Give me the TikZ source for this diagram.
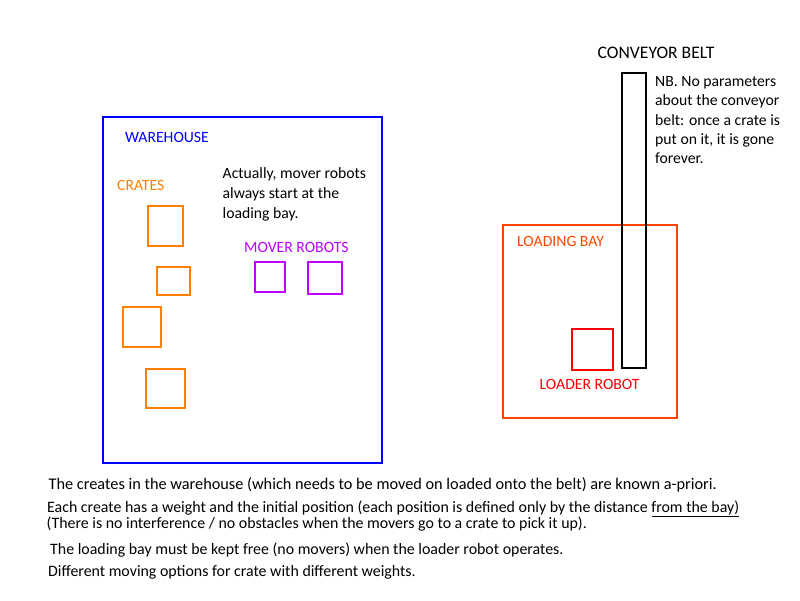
\documentclass[tikz,border=0pt]{standalone}
\usepackage{fontspec}
\setmainfont{Carlito}
\definecolor{whblue}{RGB}{0,0,255}
\definecolor{crateor}{RGB}{255,128,0}
\definecolor{moverpu}{RGB}{191,0,255}
\definecolor{bayor}{RGB}{255,69,0}
\definecolor{loadred}{RGB}{255,0,0}
\begin{document}
\begin{tikzpicture}[x=1pt,y=-1pt,
  lbl/.style={inner sep=0pt,anchor=west,font=\fontsize{15.7}{18}\selectfont},
  txt/.style={inner sep=0pt,anchor=base west,font=\fontsize{15.7}{18}\selectfont},
  btxt/.style={inner sep=0pt,anchor=base west,font=\fontsize{15.9}{18}\selectfont},
  box/.style={line width=2pt},
]
\useasboundingbox (0,0) rectangle (800,600);
% warehouse
\draw[box,whblue] (103,117) rectangle (382,463);
\node[lbl,whblue] (whlabel) at (125,137) {WAREHOUSE};
\node[lbl,crateor] (cratelabel) at (117,185) {CRATES};
\draw[box,crateor] (148,206) rectangle (183,246);
\draw[box,crateor] (157,267) rectangle (190,295);
\draw[box,crateor] (123,307) rectangle (161,347);
\draw[box,crateor] (146,369) rectangle (185,408);
\node[txt] (act1) at (222.5,178.5) {Actually, mover robots};
\node[txt] (act2) at (222.5,198.5) {always start at the};
\node[txt] (act3) at (222.5,218.5) {loading bay.};
\node[lbl,moverpu] (moverlabel) at (244,247) {MOVER ROBOTS};
\draw[box,moverpu] (255,262) rectangle (285,292);
\draw[box,moverpu] (308,262) rectangle (342,293.5);
% loading bay and belt
\draw[box,bayor] (503,225) rectangle (677,417.5);
\node[lbl,bayor] (baylabel) at (517,241) {LOADING BAY};
\draw[box,loadred] (572,329) rectangle (613,370);
\node[lbl,loadred] (loaderlabel) at (539.5,384) {LOADER ROBOT};
\draw[box,black] (622,73) rectangle (646,368);
\node[lbl,font=\fontsize{17.6}{20}\selectfont] (beltlabel) at (597.5,53) {CONVEYOR BELT};
\node[txt] (nb1) at (655,86) {NB. No parameters};
\node[txt] (nb2) at (655,105.5) {about the conveyor};
\node[txt] (nb3) at (655,125) {belt: once a crate is};
\node[txt] (nb4) at (655,144) {put on it, it is gone};
\node[txt] (nb5) at (655,163.5) {forever.};
% bottom notes
\node[btxt,font=\fontsize{16.3}{18}\selectfont] (b1) at (48.5,489) {The creates in the warehouse (which needs to be moved on loaded onto the belt) are known a-priori.};
\node[btxt] (b2) at (47,512.5) {Each create has a weight and the initial position (each position is defined only by the distance \underline{from the bay)}};
\node[btxt] (b3) at (46.5,528) {(There is no interference / no obstacles when the movers go to a crate to pick it up).};
\node[btxt] (b4) at (50,554) {The loading bay must be kept free (no movers) when the loader robot operates.};
\node[btxt] (b5) at (48,576) {Different moving options for crate with different weights.};
\end{tikzpicture}
\end{document}
